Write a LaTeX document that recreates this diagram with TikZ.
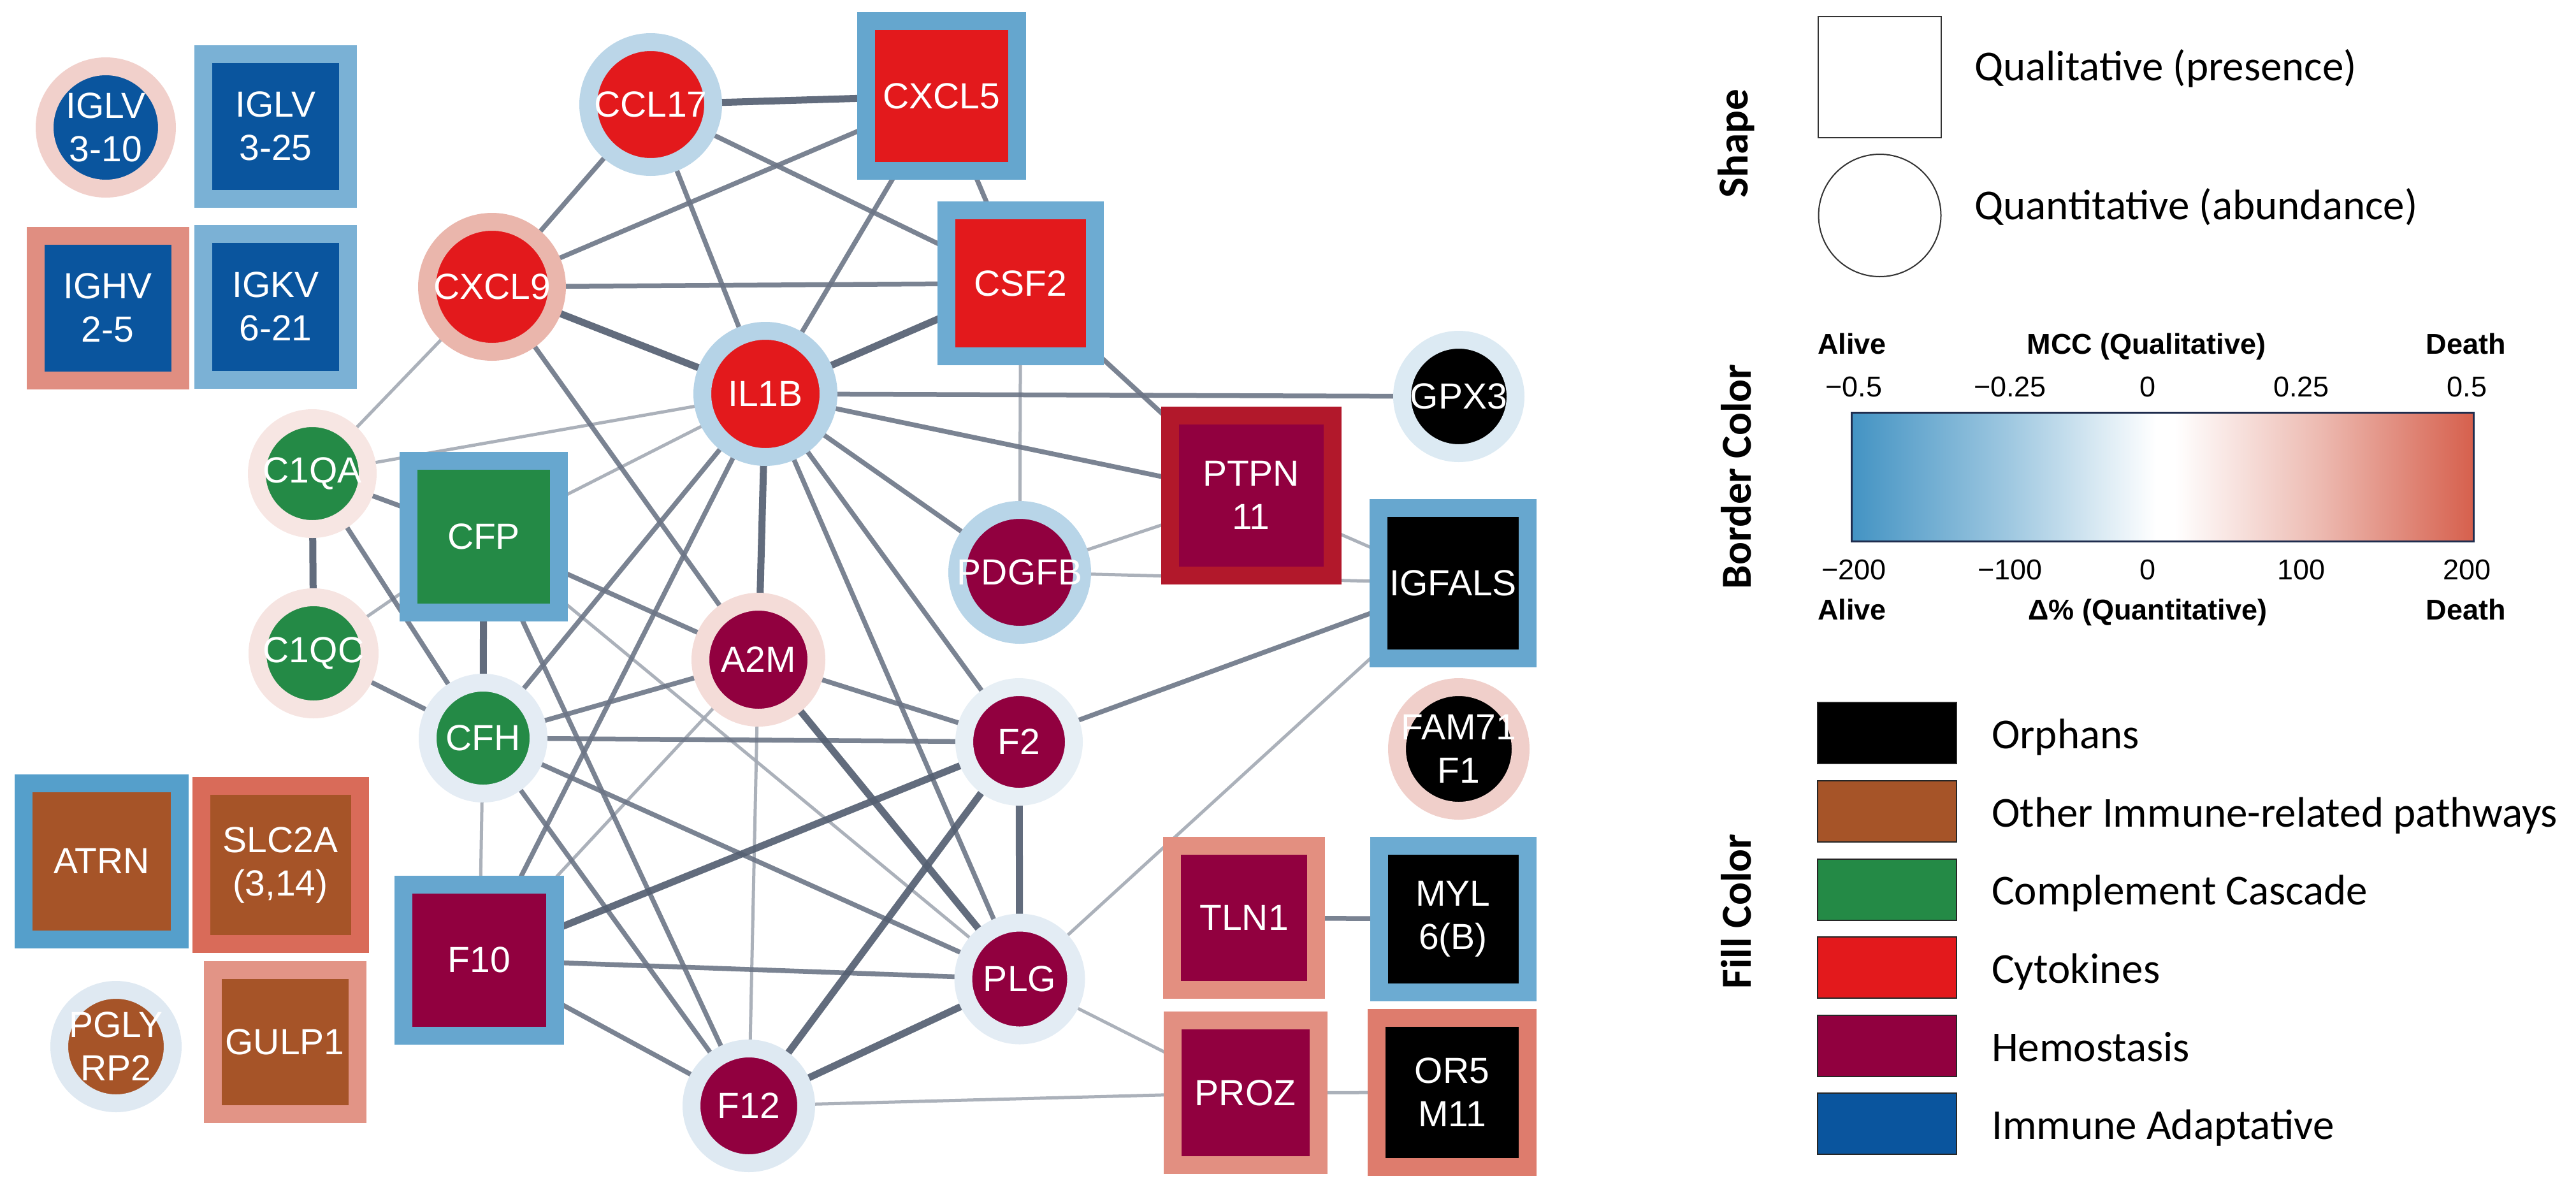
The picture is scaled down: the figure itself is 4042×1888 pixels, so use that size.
\documentclass[tikz,border=0pt]{standalone}
\usepackage{fontspec}
\setmainfont{Liberation Sans}
\newfontfamily\legfont{Carlito}
\usetikzlibrary{backgrounds}
% fill colours
\definecolor{cImm}{HTML}{0A559E}
\definecolor{cOth}{HTML}{A65428}
\definecolor{cCom}{HTML}{248A46}
\definecolor{cCyt}{HTML}{E3191C}
\definecolor{cHem}{HTML}{91003F}
\definecolor{cOrp}{HTML}{000000}
% border colours
\definecolor{bIGLVa}{HTML}{F1D0CB}
\definecolor{bIGLVb}{HTML}{7AB1D5}
\definecolor{bIGHV}{HTML}{E08E81}
\definecolor{bIGKV}{HTML}{7BB1D5}
\definecolor{bCCL}{HTML}{BBD6E8}
\definecolor{bCXCLf}{HTML}{65A6CE}
\definecolor{bCXCLn}{HTML}{EAB6AC}
\definecolor{bCSF}{HTML}{6DABD2}
\definecolor{bIL}{HTML}{B5D3E7}
\definecolor{bGPX}{HTML}{DCEAF3}
\definecolor{bCQA}{HTML}{F7E6E3}
\definecolor{bCFP}{HTML}{67A7CF}
\definecolor{bPTP}{HTML}{B2182B}
\definecolor{bPDG}{HTML}{B8D5E8}
\definecolor{bIGF}{HTML}{67A7CF}
\definecolor{bCQC}{HTML}{F6E4E1}
\definecolor{bA2M}{HTML}{F4DCD8}
\definecolor{bCFH}{HTML}{E4ECF4}
\definecolor{bFtwo}{HTML}{E7EFF5}
\definecolor{bFAM}{HTML}{F0CFCA}
\definecolor{bATR}{HTML}{559FCB}
\definecolor{bSLC}{HTML}{D96B59}
\definecolor{bFten}{HTML}{66A6CF}
\definecolor{bPLG}{HTML}{E3ECF4}
\definecolor{bTLN}{HTML}{E38F80}
\definecolor{bMYL}{HTML}{6CABD2}
\definecolor{bPGL}{HTML}{DFE9F2}
\definecolor{bGUL}{HTML}{E29486}
\definecolor{bFtw}{HTML}{DEE9F2}
\definecolor{bPRO}{HTML}{E28F81}
\definecolor{bOR}{HTML}{DE7C6D}
% edges
\definecolor{ecThick}{HTML}{556072}
\definecolor{ecMed}{HTML}{6C7586}
\definecolor{ecLight}{HTML}{A2A8B3}
% colour bar
\definecolor{cbA}{HTML}{4393C3}
\definecolor{cbB}{HTML}{9DC7E0}
\definecolor{cbD}{HTML}{EDBBB2}
\definecolor{cbE}{HTML}{D6604D}
\definecolor{cbFrame}{HTML}{1F2D4E}
\pgfdeclarehorizontalshading{cbar}{100bp}{color(0bp)=(cbA); color(25bp)=(cbA); color(37.5bp)=(cbB); color(49.5bp)=(white); color(51bp)=(white); color(62.5bp)=(cbD); color(75bp)=(cbE); color(100bp)=(cbE)}
\newcommand\gsq[8]{\node[qual, minimum width={#4pt-28pt}, minimum height={#5pt-28pt}, draw=#6, fill=#7, label={[gtext]center:{#8}}] (#1) at (#2,#3) {};}
\newcommand\gci[7]{\node[quant, minimum size={2*#4pt-28pt}, draw=#5, fill=#6, label={[gtext]center:{#7}}] (#1) at (#2,#3) {};}
\begin{document}
\begin{tikzpicture}[x=1pt,y=-1pt,
  gtext/.style={text=white, font=\fontsize{57}{68}\selectfont, align=center, inner sep=0pt},
  qual/.style={rectangle, inner sep=0pt, outer sep=0pt, line width=28pt},
  quant/.style={circle, inner sep=0pt, outer sep=0pt, line width=28pt},
  ethick/.style={line width=11pt, draw=ecThick, opacity=0.92},
  emed/.style={line width=7.5pt, draw=ecMed, opacity=0.9},
  elight/.style={line width=5pt, draw=ecLight, opacity=0.9},
  legtext/.style={font=\legfont\fontsize{67}{80}\selectfont, anchor=base west, inner sep=0pt},
  legtitle/.style={font=\legfont\bfseries\fontsize{67}{80}\selectfont, rotate=90, inner sep=0pt},
  cbhead/.style={font=\bfseries\fontsize{45}{54}\selectfont, anchor=base, inner sep=0pt},
  cbnum/.style={font=\fontsize{45}{54}\selectfont, anchor=base, inner sep=0pt},
  legbox/.style={rectangle, draw=black!85, line width=2pt, minimum width=218pt, minimum height=96pt, inner sep=0pt},
]
\useasboundingbox (0,0) rectangle (4042,1888);
% ---------- nodes ----------
\gci{IGLVa}{166}{200}{110}{bIGLVa}{cImm}{IGLV\\3-10}
\gsq{IGLVb}{432.5}{198}{255}{255}{bIGLVb}{cImm}{IGLV\\3-25}
\gsq{IGHV}{169}{483}{255}{255}{bIGHV}{cImm}{IGHV\\2-5}
\gsq{IGKV}{432.5}{481}{255}{257}{bIGKV}{cImm}{IGKV\\6-21}
\gci{CCL17}{1021}{164}{112}{bCCL}{cCyt}{CCL17}
\gsq{CXCL5}{1477.5}{150.5}{265}{263}{bCXCLf}{cCyt}{CXCL5}
\gci{CXCL9}{772}{450}{116}{bCXCLn}{cCyt}{CXCL9}
\gsq{CSF2}{1601.5}{444.5}{261}{257}{bCSF}{cCyt}{CSF2}
\gci{IL1B}{1201}{618}{113}{bIL}{cCyt}{IL1B}
\gci{GPX3}{2289}{622}{103}{bGPX}{cOrp}{GPX3}
\gci{C1QA}{490}{743}{101}{bCQA}{cCom}{C1QA}
\gsq{CFP}{759}{842}{264}{266}{bCFP}{cCom}{CFP}
\gsq{PTPN}{1963}{777}{283}{279}{bPTP}{cHem}{PTPN\\11}
\gci{PDGFB}{1600}{898}{112}{bPDG}{cHem}{PDGFB}
\gsq{IGFALS}{2280}{915}{262}{264}{bIGF}{cOrp}{IGFALS}
\gci{C1QC}{492}{1025}{102}{bCQC}{cCom}{C1QC}
\gci{A2M}{1190}{1035}{105}{bA2M}{cHem}{A2M}
\gci{CFH}{758}{1158}{101}{bCFH}{cCom}{CFH}
\gci{F2}{1599}{1164}{100}{bFtwo}{cHem}{F2}
\gci{FAM}{2289}{1175}{111}{bFAM}{cOrp}{FAM71\\F1}
\gsq{ATRN}{159.5}{1351}{273}{273}{bATR}{cOth}{ATRN}
\gsq{SLC}{440}{1357}{277}{276}{bSLC}{cOth}{SLC2A\\(3,14)}
\gsq{F10}{752}{1506}{266}{265}{bFten}{cHem}{F10}
\gci{PLG}{1600}{1536}{102.5}{bPLG}{cHem}{PLG}
\gsq{TLN}{1952}{1440}{254}{254}{bTLN}{cHem}{TLN1}
\gsq{MYL}{2280}{1442}{261}{258}{bMYL}{cOrp}{MYL\\6(B)}
\gci{PGLY}{182}{1642}{103}{bPGL}{cOth}{PGLY\\RP2}
\gsq{GULP}{447}{1635}{255}{254}{bGUL}{cOth}{GULP1}
\gci{F12}{1175}{1735}{104}{bFtw}{cHem}{F12}
\gsq{PROZ}{1954}{1714.5}{257}{255}{bPRO}{cHem}{PROZ}
\gsq{OR}{2278.5}{1714}{265}{262}{bOR}{cOrp}{OR5\\M11}
% ---------- edges ----------
\begin{scope}[on background layer]
\draw[elight] (CSF2) -- (PDGFB);
\draw[elight] (C1QA) -- (CXCL9);
\draw[elight] (C1QA) -- (IL1B);
\draw[elight] (CFP) -- (IL1B);
\draw[elight] (C1QC) -- (CFP);
\draw[elight] (CFP) -- (PLG);
\draw[elight] (A2M) -- (F12);
\draw[elight] (F10) -- (A2M);
\draw[elight] (CFH) -- (F10);
\draw[elight] (PLG) -- (IGFALS);
\draw[elight] (PLG) -- (PROZ);
\draw[elight] (F12) -- (PROZ);
\draw[elight] (PROZ) -- (OR);
\draw[elight] (PDGFB) -- (PTPN);
\draw[elight] (PDGFB) -- (IGFALS);
\draw[elight] (PTPN) -- (IGFALS);
\draw[emed] (CCL17) -- (CXCL9);
\draw[emed] (CCL17) -- (IL1B);
\draw[emed] (CCL17) -- (CSF2);
\draw[emed] (CXCL9) -- (CXCL5);
\draw[emed] (CXCL9) -- (CSF2);
\draw[emed] (CXCL5) -- (IL1B);
\draw[emed] (CXCL5) -- (CSF2);
\draw[emed] (IL1B) -- (GPX3);
\draw[emed] (IL1B) -- (PTPN);
\draw[emed] (CSF2) -- (PTPN);
\draw[emed] (CXCL9) -- (A2M);
\draw[emed] (IL1B) -- (CFH);
\draw[emed] (IL1B) -- (F10);
\draw[emed] (IL1B) -- (PLG);
\draw[emed] (IL1B) -- (F2);
\draw[emed] (IL1B) -- (PDGFB);
\draw[emed] (CFP) -- (A2M);
\draw[emed] (CFH) -- (F2);
\draw[emed] (CFH) -- (PLG);
\draw[emed] (CFH) -- (F12);
\draw[emed] (CFP) -- (F12);
\draw[emed] (F10) -- (PLG);
\draw[emed] (F10) -- (F12);
\draw[emed] (A2M) -- (F2);
\draw[emed] (F2) -- (IGFALS);
\draw[emed] (TLN) -- (MYL);
\draw[emed] (CFH) -- (A2M);
\draw[emed] (C1QA) -- (CFH);
\draw[emed] (C1QC) -- (CFH);
\draw[emed] (C1QA) -- (CFP);
\draw[ethick] (CCL17) -- (CXCL5);
\draw[ethick] (CXCL9) -- (IL1B);
\draw[ethick] (CSF2) -- (IL1B);
\draw[ethick] (IL1B) -- (A2M);
\draw[ethick] (C1QA) -- (C1QC);
\draw[ethick] (CFP) -- (CFH);
\draw[ethick] (F10) -- (F2);
\draw[ethick] (A2M) -- (PLG);
\draw[ethick] (F2) -- (F12);
\draw[ethick] (PLG) -- (F12);
\draw[ethick] (F2) -- (PLG);
\end{scope}
% ---------- legend: shape ----------
\node[legtitle] (tShape) at (2724,225) {Shape};
\node[rectangle, draw=black!80, line width=2pt, minimum width=193pt, minimum height=190pt, inner sep=0pt] (lsq) at (2949.5,121) {};
\node[circle, draw=black!80, line width=2pt, minimum size=192pt, inner sep=0pt] (lci) at (2949.5,338) {};
\node[legtext] (tQual) at (3098,126) {Qualitative (presence)};
\node[legtext] (tQuant) at (3098,344) {Quantitative (abundance)};
% ---------- legend: border colour ----------
\node[legtitle] (tBorder) at (2724,748) {Border Color};
\node[cbhead, anchor=base west] (hA1) at (2852,555) {Alive};
\node[cbhead] (hM) at (3368,555) {MCC (Qualitative)};
\node[cbhead, anchor=base east] (hD1) at (3932,555) {Death};
\node[cbnum] (n1) at (2909,622) {−0.5};
\node[cbnum] (n2) at (3154,622) {−0.25};
\node[cbnum] (n3) at (3370,622) {0};
\node[cbnum] (n4) at (3611,622) {0.25};
\node[cbnum] (n5) at (3871,622) {0.5};
\node[rectangle, shading=cbar, draw=cbFrame, line width=3pt, minimum width=976pt, minimum height=202pt, inner sep=0pt] (cbar) at (3393,748) {};
\node[cbnum] (m1) at (2909,909) {−200};
\node[cbnum] (m2) at (3154,909) {−100};
\node[cbnum] (m3) at (3370,909) {0};
\node[cbnum] (m4) at (3611,909) {100};
\node[cbnum] (m5) at (3871,909) {200};
\node[cbhead, anchor=base west] (hA2) at (2852,972) {Alive};
\node[cbhead] (hQ) at (3370,972) {Δ\% (Quantitative)};
\node[cbhead, anchor=base east] (hD2) at (3932,972) {Death};
% ---------- legend: fill colour ----------
\node[legtitle] (tFill) at (2724,1430) {Fill Color};
\node[legbox, fill=cOrp] (f1) at (2961.3,1150.3) {};
\node[legbox, fill=cOth] (f2) at (2961.3,1273) {};
\node[legbox, fill=cCom] (f3) at (2961.3,1395.5) {};
\node[legbox, fill=cCyt] (f4) at (2961.3,1518.3) {};
\node[legbox, fill=cHem] (f5) at (2961.3,1641) {};
\node[legbox, fill=cImm] (f6) at (2961.3,1763) {};
\node[legtext] (l1) at (3125,1174) {Orphans};
\node[legtext] (l2) at (3125,1297) {Other Immune-related pathways};
\node[legtext] (l3) at (3125,1419.5) {Complement Cascade};
\node[legtext] (l4) at (3125,1542.3) {Cytokines};
\node[legtext] (l5) at (3125,1665) {Hemostasis};
\node[legtext] (l6) at (3125,1787) {Immune Adaptative};
\end{tikzpicture}
\end{document}
